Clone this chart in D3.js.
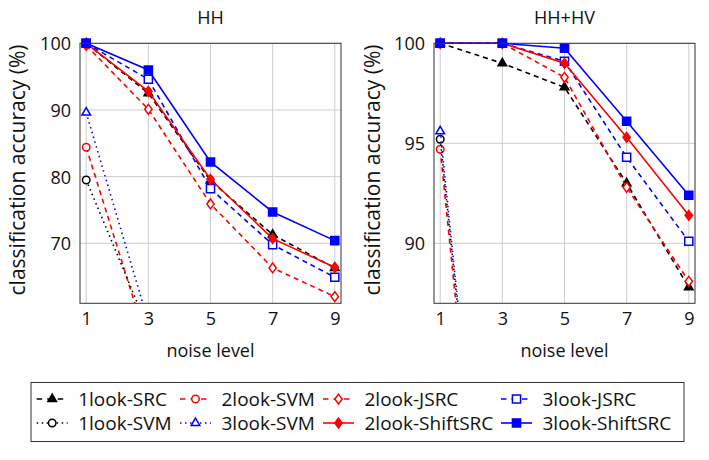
<!DOCTYPE html>
<html>
<head>
<meta charset="utf-8">
<script src="https://cdn.jsdelivr.net/npm/d3@7"></script>
<style>
  body { margin: 0; background: #fff; }
  text { font-family: "Open Sans", sans-serif; fill: #111; }
</style>
</head>
<body>
<div id="chart-container"></div>
<script>
// x values and names
const noiseLevels = [1, 3, 5, 7, 9];
const seriesNames = ["1look-SRC", "2look-SVM", "2look-JSRC", "3look-JSRC",
                     "1look-SVM", "3look-SVM", "2look-ShiftSRC", "3look-ShiftSRC"];

// HH panel (null = off the chart, not readable)
const hhSRC1   = [100, 92.5, 79.4, 71.3, 66.3];
const hhSVM2   = [84.4, 54.5, null, null, null];
const hhJSRC2  = [99.7, 90.1, 75.9, 66.3, 62.0];
const hhJSRC3  = [100, 94.6, 78.2, 69.8, 64.9];
const hhSVM1   = [79.5, 57.1, null, null, null];
const hhSVM3   = [89.6, 58.2, null, null, null];
const hhShift2 = [100, 92.8, 79.6, 70.7, 66.4];
const hhShift3 = [100, 96.0, 82.2, 74.7, 70.4];

// HH+HV panel
const hvSRC1   = [100, 99.0, 97.8, 93.0, 87.8];
const hvSVM2   = [94.7, 64.3, null, null, null];
const hvJSRC2  = [100, 100, 98.3, 92.8, 88.1];
const hvJSRC3  = [100, 100, 99.1, 94.3, 90.1];
const hvSVM1   = [95.2, 65.4, null, null, null];
const hvSVM3   = [95.6, 65.4, null, null, null];
const hvShift2 = [100, 100, 99.0, 95.3, 91.4];
const hvShift3 = [100, 100, 99.75, 96.1, 92.4];

const hhTicksY = [70, 80, 90, 100];
const hvTicksY = [90, 95, 100];

// line / marker styles, same order as seriesNames
const styles = [
  { color: "#000", dash: "5,4", mark: "triangle", fill: true },
  { color: "#f00", dash: "5,4", mark: "circle", fill: false },
  { color: "#f00", dash: "5,4", mark: "diamond", fill: false },
  { color: "#00f", dash: "5,4", mark: "square", fill: false },
  { color: "#000", dash: "1.5,3.5", mark: "circle", fill: false },
  { color: "#00f", dash: "1.5,3.5", mark: "triangle", fill: false },
  { color: "#f00", dash: null, mark: "diamond", fill: true },
  { color: "#00f", dash: null, mark: "square", fill: true }
];

const width = 709, height = 460;
const svg = d3.select("#chart-container").append("svg")
  .attr("width", width).attr("height", height);

// custom diamond, a bit wider than d3's
const diamondType = {
  draw(ctx, size) {
    const h = Math.sqrt(size / 1.5), w = h * 0.75;
    ctx.moveTo(0, -h); ctx.lineTo(w, 0); ctx.lineTo(0, h); ctx.lineTo(-w, 0); ctx.closePath();
  }
};
function markPath(mark) {
  if (mark === "triangle") return d3.symbol(d3.symbolTriangle, 32)();
  if (mark === "circle") return d3.symbol(d3.symbolCircle, 44)();
  if (mark === "square") return d3.symbol(d3.symbolSquare, 66)();
  return d3.symbol(diamondType, 36)();
}

function drawPanel(cfg) {
  const { left, right, top, bottom, yDomain, yTicks, series, title, id } = cfg;
  const x = d3.scaleLinear().domain([0.8, 9.2]).range([left, right]);
  const y = d3.scaleLinear().domain(yDomain).range([bottom, top]);
  const g = svg.append("g");

  // grid
  g.selectAll(".gx").data(noiseLevels).enter().append("line")
    .attr("x1", d => x(d)).attr("x2", d => x(d))
    .attr("y1", top).attr("y2", bottom)
    .attr("stroke", "#cdcdcd").attr("stroke-width", 1);
  g.selectAll(".gy").data(yTicks).enter().append("line")
    .attr("x1", left).attr("x2", right)
    .attr("y1", d => y(d)).attr("y2", d => y(d))
    .attr("stroke", "#cdcdcd").attr("stroke-width", 1);

  // axes (labels only)
  g.append("g").attr("transform", `translate(0,${bottom})`)
    .call(d3.axisBottom(x).tickValues(noiseLevels).tickSize(0).tickPadding(9))
    .call(a => a.select(".domain").remove())
    .selectAll("text").style("font-size", "18px").attr("fill", "#111");
  g.append("g").attr("transform", `translate(${left},0)`)
    .call(d3.axisLeft(y).tickValues(yTicks).tickSize(0).tickPadding(9))
    .call(a => a.select(".domain").remove())
    .selectAll("text").style("font-size", "18px").attr("fill", "#111")
    .attr("dy", "0.36em");
  g.selectAll(".tick text").attr("font-family", null);

  // clip
  svg.append("clipPath").attr("id", id).append("rect")
    .attr("x", left).attr("y", top - 6).attr("width", right - left).attr("height", bottom - top + 6);
  const plot = g.append("g").attr("clip-path", `url(#${id})`);

  series.forEach((vals, i) => {
    const st = styles[i];
    const pts = noiseLevels.map((n, k) => ({ n, v: vals[k] }));
    const line = d3.line().defined(d => d.v !== null).x(d => x(d.n)).y(d => y(d.v));
    plot.append("path").datum(pts)
      .attr("d", line)
      .attr("fill", "none")
      .attr("stroke", st.color)
      .attr("stroke-width", 1.6)
      .attr("stroke-dasharray", st.dash);
    plot.selectAll(null).data(pts.filter(d => d.v !== null)).enter().append("path")
      .attr("d", markPath(st.mark))
      .attr("transform", d => `translate(${x(d.n)},${y(d.v)})`)
      .attr("fill", st.fill ? st.color : "#fff")
      .attr("stroke", st.color)
      .attr("stroke-width", 1.5);
  });

  // frame
  g.append("rect").attr("x", left).attr("y", top)
    .attr("width", right - left).attr("height", bottom - top)
    .attr("fill", "none").attr("stroke", "#333").attr("stroke-width", 1);

  g.append("text").attr("x", (left + right) / 2).attr("y", 24)
    .attr("text-anchor", "middle").style("font-size", "18px").text(title);
  g.append("text").attr("x", (left + right) / 2).attr("y", 357)
    .attr("text-anchor", "middle").style("font-size", "18px").text("noise level");
  g.append("text")
    .attr("transform", `translate(${cfg.ylabelX},170) rotate(-90)`)
    .attr("text-anchor", "middle").attr("dy", "0.35em")
    .style("font-size", "21px").text("classification accuracy (%)");
}

drawPanel({
  id: "clipHH", title: "HH", left: 80, right: 341, top: 43.3, bottom: 303.3,
  yDomain: [61, 100], yTicks: hhTicksY, ylabelX: 18,
  series: [hhSRC1, hhSVM2, hhJSRC2, hhJSRC3, hhSVM1, hhSVM3, hhShift2, hhShift3]
});
drawPanel({
  id: "clipHV", title: "HH+HV", left: 434, right: 695, top: 43.3, bottom: 303.3,
  yDomain: [87, 100], yTicks: hvTicksY, ylabelX: 373,
  series: [hvSRC1, hvSVM2, hvJSRC2, hvJSRC3, hvSVM1, hvSVM3, hvShift2, hvShift3]
});

// legend, 4 columns x 2 rows
const legendCols = [36.7, 180, 323, 501];
const legendRows = [399, 423];
const lg = svg.append("g");
lg.append("rect").attr("x", 31).attr("y", 382.5).attr("width", 653).attr("height", 59)
  .attr("fill", "#fff").attr("stroke", "#333").attr("stroke-width", 1);
seriesNames.forEach((name, i) => {
  const st = styles[i];
  const cx = legendCols[i % 4], cy = legendRows[Math.floor(i / 4)];
  lg.append("line").attr("x1", cx).attr("x2", cx + 31).attr("y1", cy).attr("y2", cy)
    .attr("stroke", st.color).attr("stroke-width", 1.6)
    .attr("stroke-dasharray", st.dash ? (st.dash === "5,4" ? "5.5,5" : "1.5,3.5") : null);
  lg.append("path").attr("d", markPath(st.mark))
    .attr("transform", `translate(${cx + 15.5},${cy})`)
    .attr("fill", st.fill ? st.color : "#fff")
    .attr("stroke", st.color).attr("stroke-width", 1.5);
  lg.append("text").attr("x", cx + 41.5).attr("y", cy).attr("dy", "0.36em")
    .style("font-size", "19px").text(name);
});
</script>
</body>
</html>
